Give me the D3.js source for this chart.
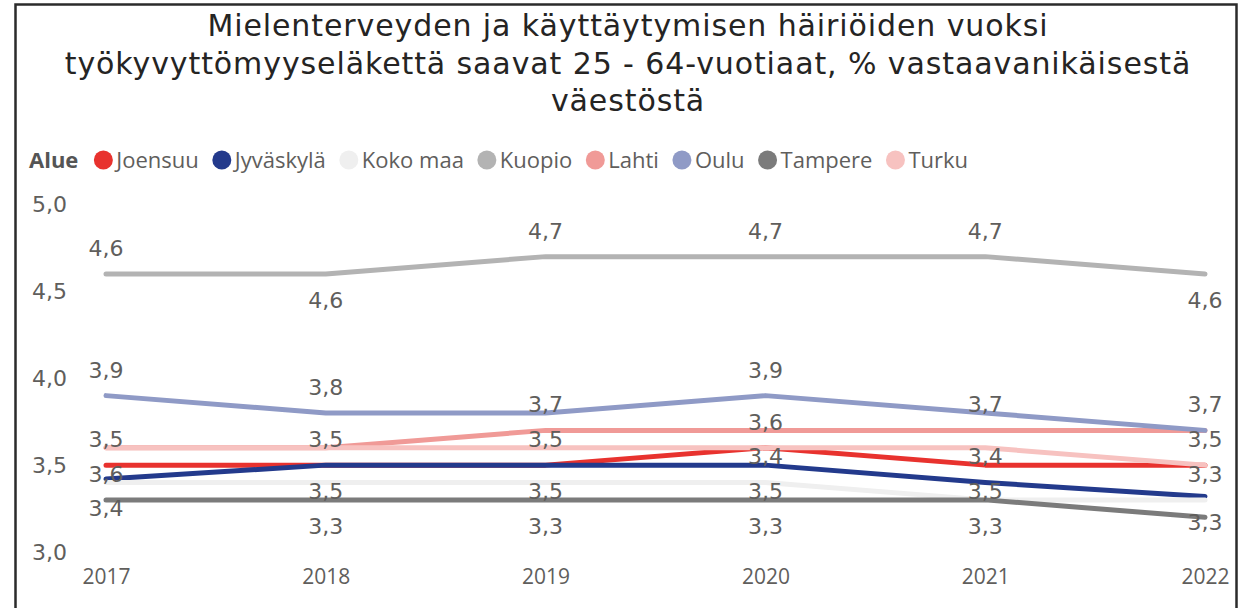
<!DOCTYPE html>
<html>
<head>
<meta charset="utf-8">
<script src="https://cdn.jsdelivr.net/npm/d3@7"></script>
<style>
  body { margin: 0; background: #fff; }
  svg { display: block; }
</style>
</head>
<body>
<script>
// values
var years = [2017, 2018, 2019, 2020, 2021, 2022];
var seriesNames = ["Joensuu", "Jyväskylä", "Koko maa", "Kuopio", "Lahti", "Oulu", "Tampere", "Turku"];
var colors = ["#E8322E", "#233A8C", "#EFEFEF", "#B3B3B3", "#F09A97", "#8F9AC6", "#7B7B7B", "#F7C2C0"];

var joensuu   = [3.5, 3.5, 3.5, 3.6, 3.5, 3.5];
var jyvaskyla = [3.42, 3.5, 3.5, 3.5, 3.4, 3.32];
var kokoMaa   = [3.4, 3.4, 3.4, 3.4, 3.3, 3.3];
var kuopio    = [4.6, 4.6, 4.7, 4.7, 4.7, 4.6];
var lahti     = [3.6, 3.6, 3.7, 3.7, 3.7, 3.7];
var oulu      = [3.9, 3.8, 3.8, 3.9, 3.8, 3.7];
var tampere   = [3.3, 3.3, 3.3, 3.3, 3.3, 3.2];
var turku     = [3.6, 3.6, 3.6, 3.6, 3.6, 3.5];
var allValues = [joensuu, jyvaskyla, kokoMaa, kuopio, lahti, oulu, tampere, turku];

// which data labels are shown ("up" = above the line, "down" = below)
var labelSides = [
  ["up",   "up",   "up",   null,   "down", null],   // Joensuu
  [null,   "down", "down", "down", "up",   "down"], // Jyväskylä
  ["down", null,   null,   "up",   null,   "up"],   // Koko maa
  ["up",   "down", "up",   "up",   "up",   "down"], // Kuopio
  [null,   null,   "up",   null,   "up",   null],   // Lahti
  ["up",   "up",   null,   "up",   null,   "up"],   // Oulu
  [null,   "down", "down", "down", "down", null],   // Tampere
  ["down", null,   null,   "up",   null,   "up"]    // Turku
];

var yTicks = [3.0, 3.5, 4.0, 4.5, 5.0];
var titleLines = [
  "Mielenterveyden ja käyttäytymisen häiriöiden vuoksi",
  "työkyvyttömyyseläkettä saavat 25 - 64-vuotiaat, % vastaavanikäisestä",
  "väestöstä"
];
var legendTitle = "Alue";

var width = 1243, height = 608;
var textGrey = "#605E5C";
var fi = d3.formatLocale({decimal: ",", thousands: " ", grouping: [3], currency: ["", "€"]});
var fmt = fi.format(".1f");

var svg = d3.select("body").append("svg")
  .attr("width", width)
  .attr("height", height);

// frame
svg.append("rect")
  .attr("x", 15.5).attr("y", 4.5)
  .attr("width", 1221).attr("height", 640)
  .attr("fill", "none")
  .attr("stroke", "#2b2b2b")
  .attr("stroke-width", 2.5);

// title
svg.append("g").selectAll("text")
  .data(titleLines)
  .enter().append("text")
  .attr("x", 628)
  .attr("y", function(d, i) { return 36 + i * 37.5; })
  .attr("text-anchor", "middle")
  .style("font-family", "'DejaVu Sans', Verdana, sans-serif")
  .style("font-size", "30px")
  .style("letter-spacing", "0.9px")
  .style("fill", "#252423")
  .text(function(d) { return d; });

// legend
var legend = svg.append("g").attr("class", "legend");
var lt = legend.append("text")
  .attr("x", 29).attr("y", 160)
  .attr("dy", "0.35em")
  .style("font-family", "'Segoe UI', 'Open Sans', sans-serif")
  .style("font-size", "22px")
  .style("font-weight", "bold")
  .style("fill", "#555")
  .text(legendTitle);
var lx = 29 + lt.node().getComputedTextLength() + 16;
seriesNames.forEach(function(name, i) {
  legend.append("circle")
    .attr("cx", lx + 9).attr("cy", 160).attr("r", 9.5)
    .attr("fill", colors[i]);
  var t = legend.append("text")
    .attr("x", lx + 22).attr("y", 160)
    .attr("dy", "0.35em")
    .style("font-family", "'Segoe UI', 'Open Sans', sans-serif")
    .style("font-size", "22px")
    .style("fill", textGrey)
    .text(name);
  lx = lx + 22 + t.node().getComputedTextLength() + 14;
});

// scales
var x = d3.scalePoint().domain(years).range([106, 1205]);
var y = d3.scaleLinear().domain([3, 5]).range([552, 204.5]);

// y axis
var yAxis = svg.append("g")
  .attr("transform", "translate(67,0)")
  .call(d3.axisLeft(y).tickValues(yTicks).tickSize(0).tickPadding(0).tickFormat(fmt));
yAxis.select(".domain").remove();
yAxis.selectAll("text")
  .style("font-family", "'DejaVu Sans', Verdana, sans-serif")
  .style("font-size", "22px")
  .style("fill", textGrey);

// x axis
var xAxis = svg.append("g")
  .attr("transform", "translate(0,566)")
  .call(d3.axisBottom(x).tickSize(0).tickPadding(0).tickFormat(d3.format("d")));
xAxis.select(".domain").remove();
xAxis.selectAll("text")
  .attr("y", 11).attr("dy", "0.35em")
  .style("font-family", "'Segoe UI', 'Open Sans', sans-serif")
  .style("font-size", "21px")
  .style("fill", textGrey);

// lines
var line = d3.line()
  .x(function(d, i) { return x(years[i]); })
  .y(function(d) { return y(d); });

svg.append("g").selectAll("path")
  .data(allValues)
  .enter().append("path")
  .attr("d", line)
  .attr("fill", "none")
  .attr("stroke", function(d, i) { return colors[i]; })
  .attr("stroke-width", 5)
  .attr("stroke-linejoin", "round")
  .attr("stroke-linecap", "round");

// data labels
var labels = [];
allValues.forEach(function(vals, s) {
  vals.forEach(function(v, i) {
    if (labelSides[s][i]) labels.push({year: years[i], value: v, side: labelSides[s][i]});
  });
});

svg.append("g").selectAll("text")
  .data(labels)
  .enter().append("text")
  .attr("x", function(d) { return x(d.year); })
  .attr("y", function(d) { return y(d.value) + (d.side === "up" ? -26 : 26); })
  .attr("dy", "0.36em")
  .attr("text-anchor", "middle")
  .style("font-family", "'DejaVu Sans', Verdana, sans-serif")
  .style("font-size", "22px")
  .style("fill", textGrey)
  .text(function(d) { return fmt(d.value); });
</script>
</body>
</html>
